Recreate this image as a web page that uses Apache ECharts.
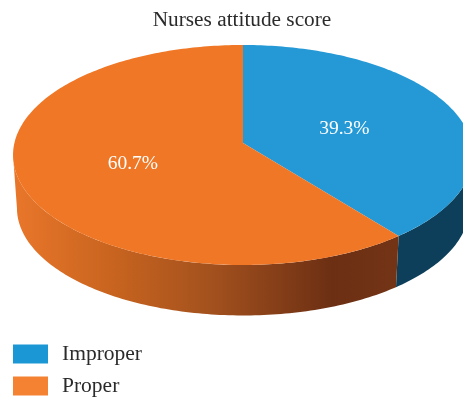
<!DOCTYPE html>
<html>
<head>
<meta charset="utf-8">
<style>html,body{margin:0;padding:0;background:#fff}#c{width:463px;height:400px}</style>
<script src="https://cdn.jsdelivr.net/npm/echarts@6/dist/echarts.min.js"></script>
</head>
<body>
<div id="c"></div>
<script>
var titleText = 'Nurses attitude score';
var categories = ['Improper', 'Proper'];
var values = [39.3, 60.7];
var valueLabels = ['39.3%', '60.7%'];

var topColors = ['#2499D6', '#EF7726'];
var legendColors = ['#1C97D5', '#F58232'];
var wallStops = [
  [{offset: 0, color: '#0D3F5A'}, {offset: 1, color: '#0D3F5A'}],
  [{offset: 0, color: '#E8762A'}, {offset: 0.25, color: '#C8641F'},
   {offset: 0.5, color: '#A5521E'}, {offset: 0.83, color: '#6C2F13'},
   {offset: 1, color: '#733416'}]
];

var FONT = '"Liberation Serif", serif';
var TOP = {cx: 243, cy: 143, bx: 228.6, by: 108.7, k: 0.109};
var BOT = {cx: 243, cy: 196.5, bx: 224.7, by: 106, k: 0.109};
var total = values.reduce(function (a, b) { return a + b; }, 0);
// rim angles where the silhouette of the tilted disc turns
var rimTurn = Math.acos(TOP.k) * 180 / Math.PI;

function project(d, r, deg) {
  var t = deg * Math.PI / 180, u = r * Math.sin(t), v = -r * Math.cos(t), w = 1 - d.k * v;
  return [d.cx + d.bx * u / w, d.cy + d.by * v / w];
}
function arc(d, a, b) {
  var n = Math.max(2, Math.ceil(Math.abs(b - a))), pts = [];
  for (var i = 0; i <= n; i++) pts.push(project(d, 1, a + (b - a) * i / n));
  return pts;
}
function sliceRange(i) {
  var s = 0;
  for (var j = 0; j < i; j++) s += values[j];
  return [s / total * 360, (s + values[i]) / total * 360];
}
function renderSlice(i) {
  var rg = sliceRange(i), children = [];
  var a = Math.max(rg[0], 180 - rimTurn), b = Math.min(rg[1], 180 + rimTurn);
  if (b > a) {
    var wall = arc(TOP, a, b).concat(arc(BOT, b, a));
    children.push({
      type: 'polygon', shape: {points: wall},
      style: {fill: {type: 'linear', x: 17, y: 0, x2: 397, y2: 0, global: true, colorStops: wallStops[i]}}
    });
  }
  children.push({
    type: 'polygon',
    shape: {points: [[TOP.cx, TOP.cy]].concat(arc(TOP, rg[0], rg[1]))},
    style: {fill: topColors[i]}
  });
  var p = project(TOP, 0.49, (rg[0] + rg[1]) / 2);
  children.push({
    type: 'text', x: p[0] - 2.5, y: p[1] + 3, z2: 10,
    style: {text: valueLabels[i], fill: '#fff', font: '19.5px ' + FONT, align: 'center', verticalAlign: 'middle'}
  });
  return {type: 'group', children: children};
}

var chart = echarts.init(document.getElementById('c'), null, {renderer: 'canvas'});
chart.setOption({
  animation: false,
  backgroundColor: '#fff',
  title: {
    text: titleText, left: 237, top: 5, textAlign: 'center',
    textStyle: {fontFamily: FONT, fontSize: 21.3, fontWeight: 'normal', color: '#2b2b2b'}
  },
  legend: {
    orient: 'vertical', left: 13, top: 343, height: 120, itemWidth: 35, itemHeight: 19, itemGap: 10,
    icon: 'rect', padding: 0,
    data: categories.map(function (c, i) {
      return {name: c, itemStyle: {color: legendColors[i]}};
    }),
    textStyle: {fontFamily: FONT, fontSize: 21.5, lineHeight: 19, color: '#2b2b2b', padding: [0, 0, 0, 9]}
  },
  series: categories.map(function (c, i) {
    return {
      type: 'custom', name: c, coordinateSystem: 'none', silent: true,
      itemStyle: {color: legendColors[i]},
      data: [values[i]],
      renderItem: function () { return renderSlice(i); }
    };
  })
});
</script>
</body>
</html>
